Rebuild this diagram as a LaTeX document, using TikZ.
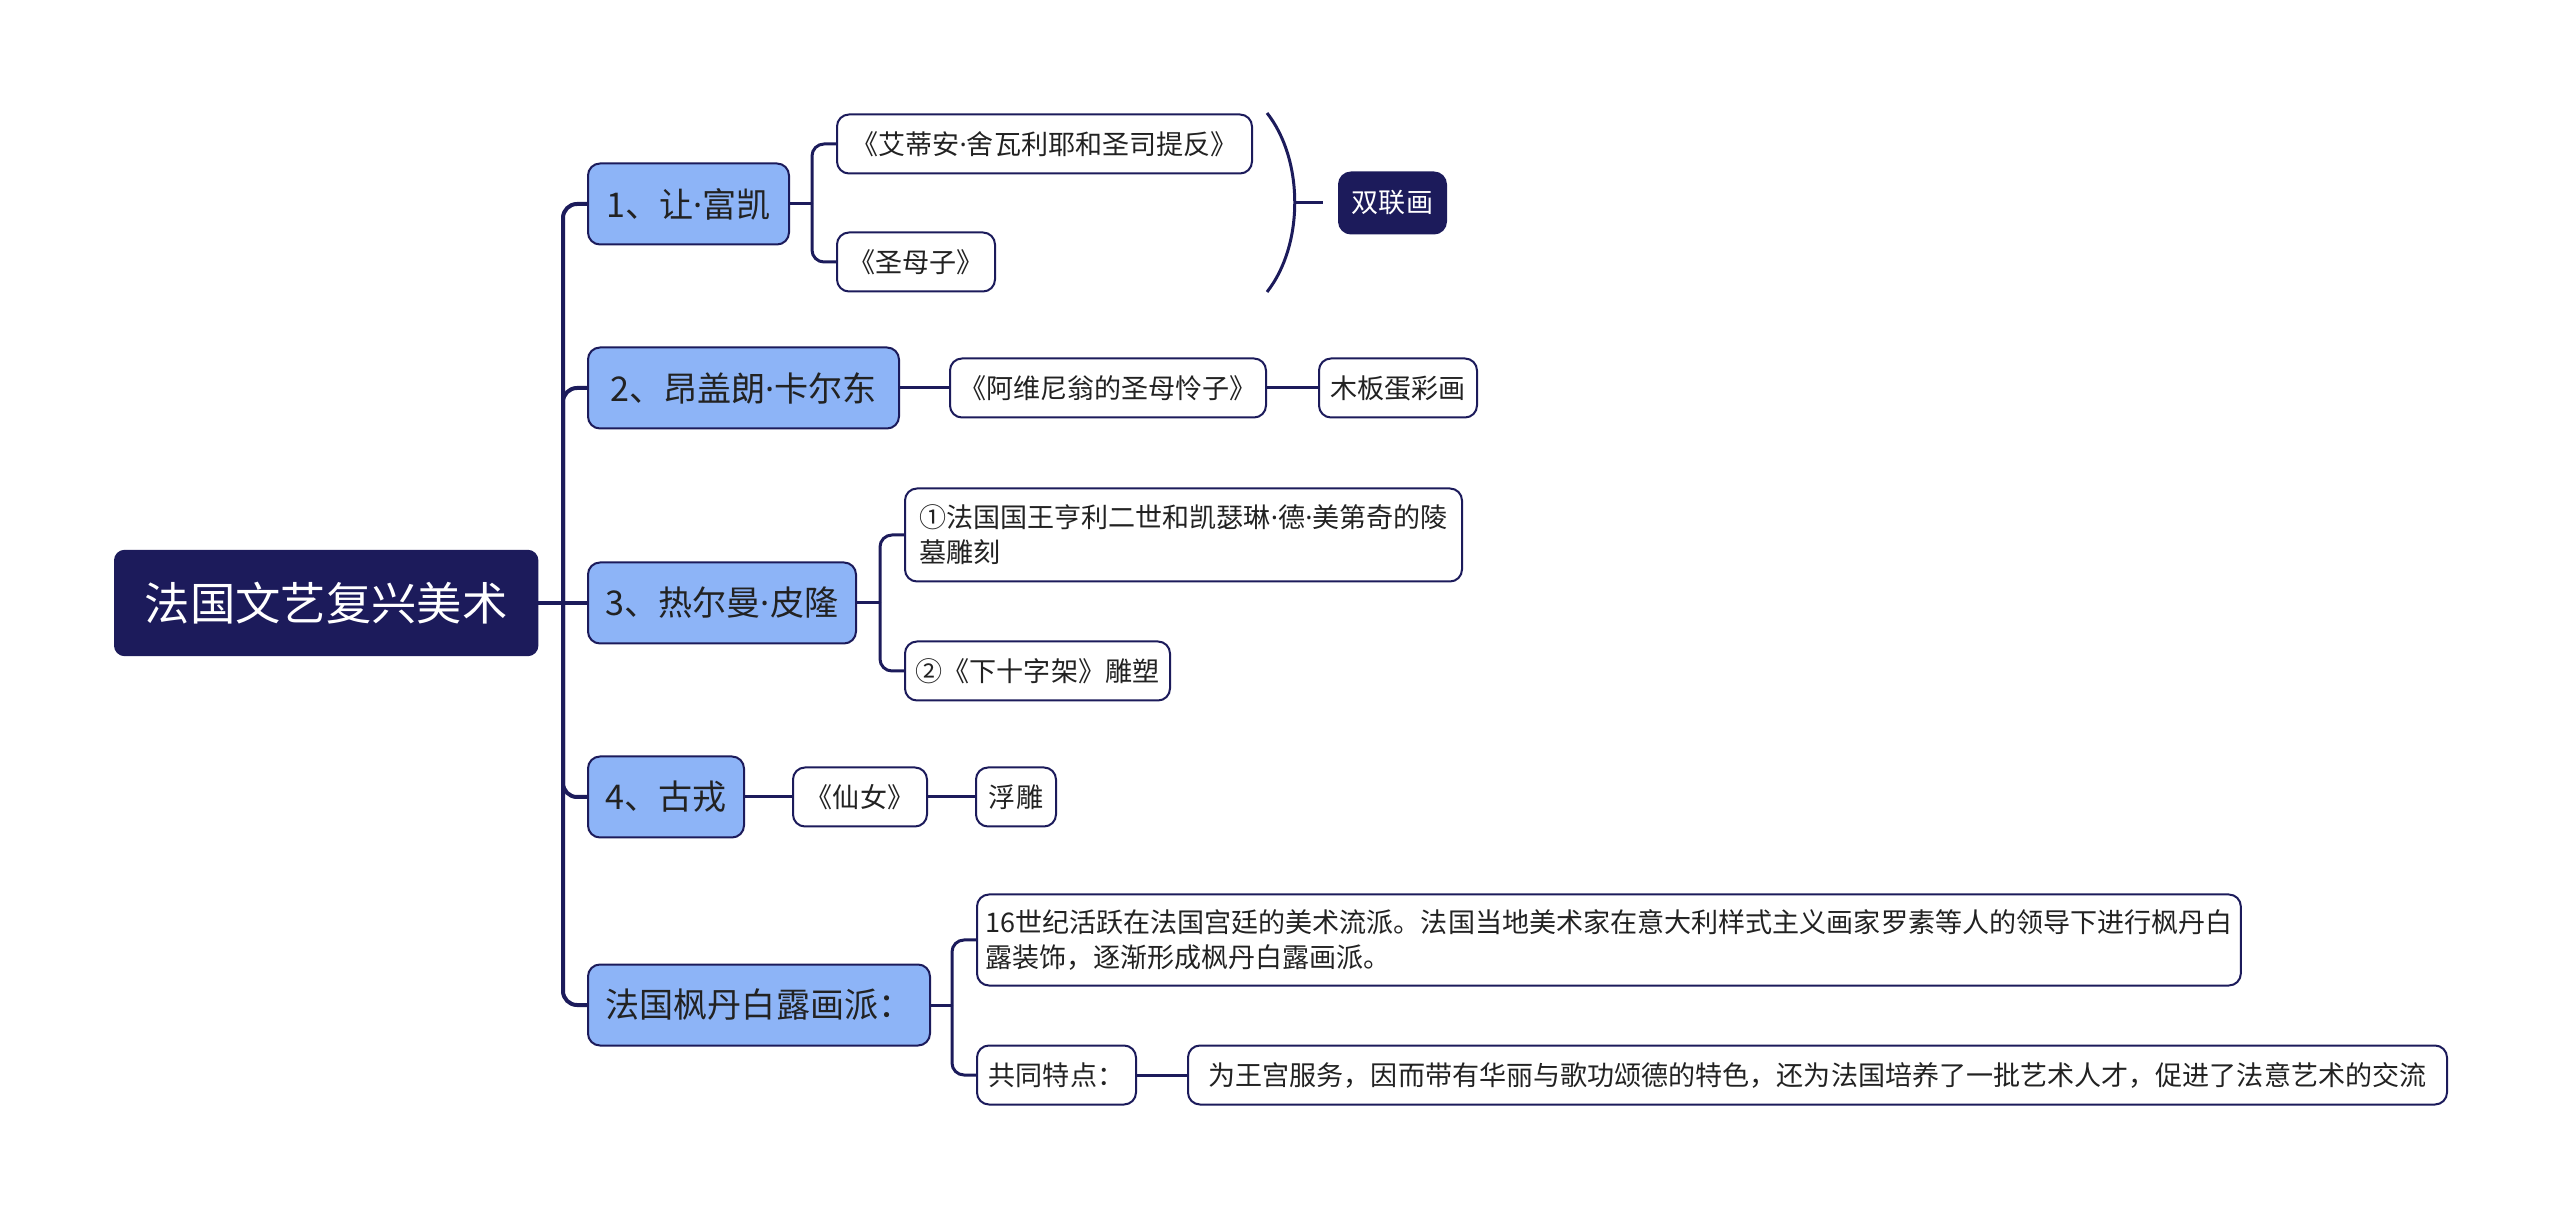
\documentclass[tikz,border=0pt]{standalone}
\usepackage{fontspec}
\usepackage{tikz}
\usetikzlibrary{positioning,calc}
\newfontfamily\cjk{Noto Sans CJK SC}
\newfontfamily\latn{Noto Sans}
\newcommand\mdot{{\latn ·}}
\definecolor{navy1}{HTML}{1C1B5B}
\definecolor{blue1}{HTML}{8DB4F7}
\definecolor{ink}{HTML}{222222}

\begin{document}
\begin{tikzpicture}[x=1cm,y=1cm,
  rootbox/.style={draw=navy1,fill=navy1,text=white,rounded corners=0.1cm,anchor=west,
    font={\cjk\fontsize{12.9pt}{15pt}\selectfont},minimum height=1.05cm,inner xsep=0.1cm},
  topicbox/.style={draw=navy1,line width=0.02cm,fill=blue1,text=ink,rounded corners=0.12cm,
    anchor=west,font={\cjk\fontsize{9.7pt}{12pt}\selectfont},minimum height=0.81cm,inner xsep=0.1cm},
  leafbox/.style={draw=navy1,line width=0.02cm,fill=white,text=ink,rounded corners=0.12cm,
    anchor=west,font={\cjk\fontsize{7.7pt}{10pt}\selectfont},minimum height=0.59cm,
    inner xsep=0.08cm,align=left},
  tagbox/.style={leafbox,fill=navy1,text=white,minimum height=0.61cm},
  trunk/.style={navy1,line width=0.04cm},
  link/.style={navy1,line width=0.03cm}]
  \useasboundingbox (0,0) rectangle (25.6,-12.19);
  % root and main branches
  \node[rootbox,minimum width=4.23cm] (root) at (1.14,-6.03) {法国文艺复兴美术};
  \coordinate (fork0) at (5.63,-6.03);
  \node[topicbox,minimum width=2.01cm] (fouquet) at (5.87,-2.04) {1、让\mdot 富凯};
  \node[topicbox,minimum width=3.11cm] (charonton) at (5.87,-3.88) {2、昂盖朗\mdot 卡尔东};
  \node[topicbox,minimum width=2.68cm] (pilon) at (5.87,-6.03) {3、热尔曼\mdot 皮隆};
  \node[topicbox,minimum width=1.56cm] (goujon) at (5.87,-7.97) {4、古戎};
  \node[topicbox,minimum width=3.42cm] (fontaine) at (5.87,-10.05) {法国枫丹白露画派：};
  \draw[trunk] (root.east) -- (fork0);
  \foreach \n in {fouquet,charonton,goujon,fontaine}{
    \draw[trunk,rounded corners=0.14cm] (fork0) |- (\n.west);}
  \draw[trunk] (fork0) -- (pilon.west);
  % 1: fouquet
  \node[leafbox,minimum width=4.15cm] (etienne) at (8.36,-1.44) {《艾蒂安\mdot 舍瓦利耶和圣司提反》};
  \node[leafbox,minimum width=1.58cm] (madonna) at (8.36,-2.62) {《圣母子》};
  \coordinate (f1) at (8.12,-2.04);
  \draw[link] (fouquet.east) -- (f1);
  \draw[link,rounded corners=0.12cm] (f1) |- (etienne.west);
  \draw[link,rounded corners=0.12cm] (f1) |- (madonna.west);
  \node[tagbox,minimum width=1.07cm] (diptych) at (13.38,-2.03) {双联画};
  \draw[link] (12.67,-1.13) .. controls (13.04,-1.6) and (13.04,-2.45) .. (12.67,-2.92);
  \coordinate (brk) at (12.95,-2.03);
  \draw[link] (brk) -- ([xshift=-0.15cm]diptych.west);
  % 2: charonton
  \node[leafbox,minimum width=3.16cm] (pieta) at (9.49,-3.88) {《阿维尼翁的圣母怜子》};
  \node[leafbox,minimum width=1.58cm] (tempera) at (13.18,-3.88) {木板蛋彩画};
  \draw[link] (charonton.east) -- (pieta.west);
  \draw[link] (pieta.east) -- (tempera.west);
  % 3: pilon
  \node[leafbox,minimum width=5.57cm,minimum height=0.93cm] (tomb) at (9.04,-5.35)
       {①法国国王亨利二世和凯瑟琳\mdot 德\mdot 美第奇的陵\\墓雕刻};
  \node[leafbox,minimum width=2.65cm] (cross) at (9.04,-6.71) {②《下十字架》雕塑};
  \coordinate (f3) at (8.80,-6.03);
  \draw[link] (pilon.east) -- (f3);
  \draw[link,rounded corners=0.12cm] (f3) |- (tomb.west);
  \draw[link,rounded corners=0.12cm] (f3) |- (cross.west);
  % 4: goujon
  \node[leafbox,minimum width=1.34cm] (nymph) at (7.92,-7.97) {《仙女》};
  \node[leafbox,minimum width=0.80cm] (relief) at (9.75,-7.97) {浮雕};
  \draw[link] (goujon.east) -- (nymph.west);
  \draw[link] (nymph.east) -- (relief.west);
  % 5: fontainebleau school
  \node[leafbox,minimum width=12.59cm,minimum height=0.91cm] (school) at (9.76,-9.40)
       {16世纪活跃在法国宫廷的美术流派。法国当地美术家在意大利样式主义画家罗素等人的领导下进行枫丹白\\露装饰，逐渐形成枫丹白露画派。};
  \node[leafbox,minimum width=1.59cm] (common) at (9.76,-10.75) {共同特点：};
  \node[leafbox,minimum width=12.59cm] (court) at (11.87,-10.75)
       {为王宫服务，因而带有华丽与歌功颂德的特色，还为法国培养了一批艺术人才，促进了法意艺术的交流};
  \coordinate (f5) at (9.52,-10.05);
  \draw[link] (fontaine.east) -- (f5);
  \draw[link,rounded corners=0.12cm] (f5) |- (school.west);
  \draw[link,rounded corners=0.12cm] (f5) |- (common.west);
  \draw[link] (common.east) -- (court.west);
\end{tikzpicture}
\end{document}
